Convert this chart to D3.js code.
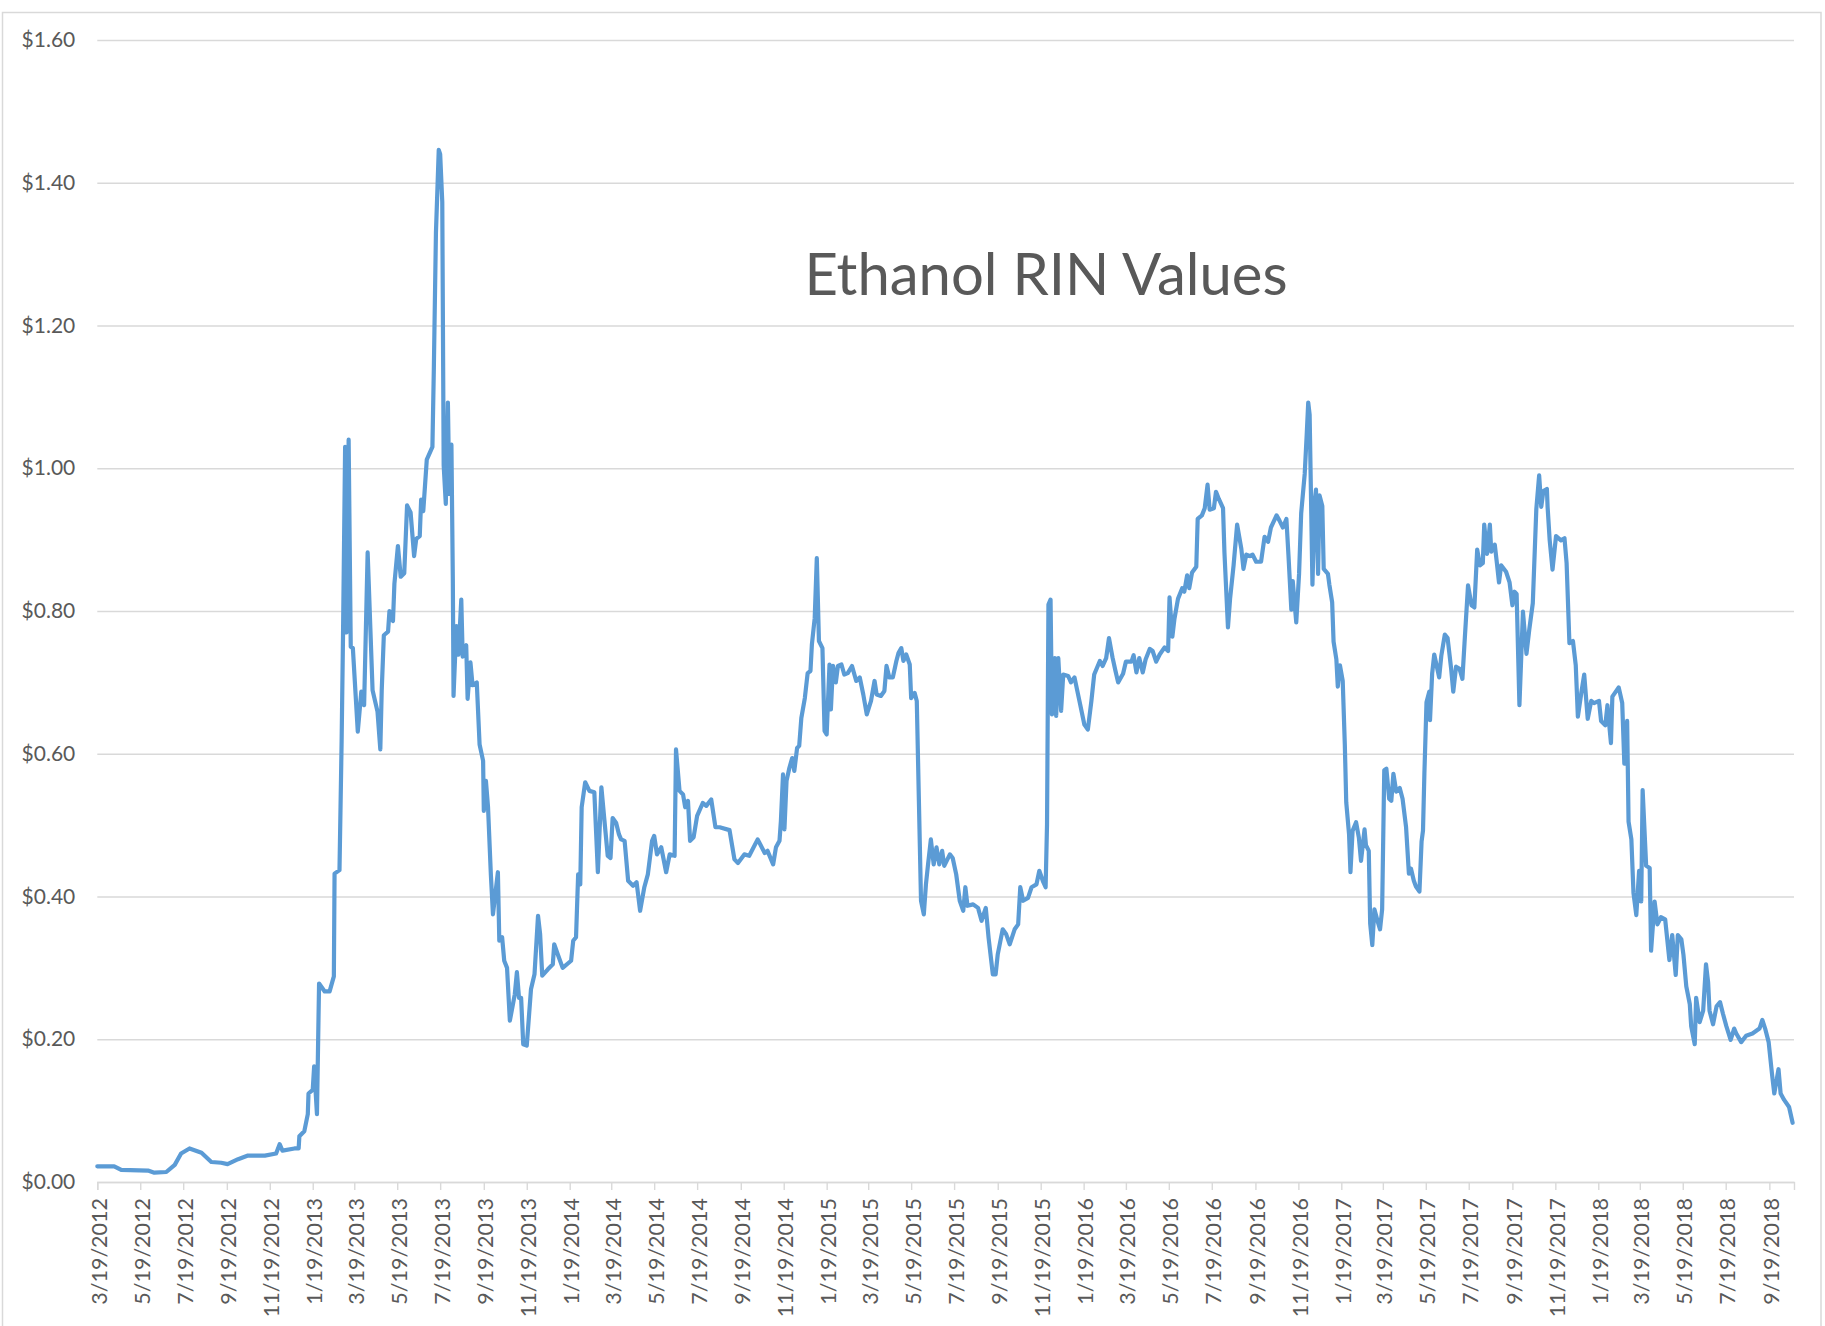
<!DOCTYPE html>
<html>
<head>
<meta charset="utf-8">
<script src="https://cdn.jsdelivr.net/npm/d3@7"></script>
<style>
  html, body { margin: 0; padding: 0; background: #ffffff; }
  svg { display: block; }
</style>
</head>
<body>
<svg id="chart" width="1825" height="1326"></svg>
<script>
// ---------------- DATA ----------------
const chartTitle = "Ethanol RIN Values";

const dates = [
"2012-03-19","2012-04-12","2012-04-22","2012-05-30","2012-06-08","2012-06-25","2012-07-07","2012-07-16","2012-07-28","2012-08-14",
"2012-08-28","2012-09-11","2012-09-20","2012-10-05","2012-10-19","2012-11-12","2012-11-28","2012-12-03","2012-12-07","2012-12-24",
"2012-12-30","2012-12-31","2013-01-07","2013-01-12","2013-01-13","2013-01-19","2013-01-21","2013-01-25","2013-01-28","2013-02-05",
"2013-02-12","2013-02-18","2013-02-19","2013-02-26","2013-03-01","2013-03-03","2013-03-06","2013-03-08","2013-03-11","2013-03-14",
"2013-03-17","2013-03-24","2013-03-29","2013-04-02","2013-04-07","2013-04-14","2013-04-21","2013-04-25","2013-04-27","2013-04-30",
"2013-05-06","2013-05-08","2013-05-13","2013-05-15","2013-05-20","2013-05-24","2013-05-29","2013-06-02","2013-06-07","2013-06-12",
"2013-06-15","2013-06-20","2013-06-22","2013-06-25","2013-06-30","2013-07-08","2013-07-10","2013-07-13","2013-07-17","2013-07-19",
"2013-07-22","2013-07-24","2013-07-27","2013-07-30","2013-08-01","2013-08-04","2013-08-06","2013-08-07","2013-08-11","2013-08-14",
"2013-08-18","2013-08-20","2013-08-25","2013-08-27","2013-08-31","2013-09-03","2013-09-09","2013-09-13","2013-09-18","2013-09-19",
"2013-09-22","2013-09-25","2013-09-29","2013-10-02","2013-10-09","2013-10-11","2013-10-15","2013-10-18","2013-10-22","2013-10-26",
"2013-11-02","2013-11-05","2013-11-08","2013-11-11","2013-11-14","2013-11-19","2013-11-25","2013-11-30","2013-12-05","2013-12-08",
"2013-12-11","2013-12-19","2013-12-26","2013-12-28","2014-01-02","2014-01-09","2014-01-21","2014-01-24","2014-01-28","2014-01-31",
"2014-02-03","2014-02-05","2014-02-10","2014-02-16","2014-02-23","2014-02-28","2014-03-05","2014-03-09","2014-03-14","2014-03-18",
"2014-03-21","2014-03-26","2014-03-30","2014-04-02","2014-04-07","2014-04-12","2014-04-19","2014-04-24","2014-04-29","2014-05-05",
"2014-05-10","2014-05-16","2014-05-19","2014-05-23","2014-05-29","2014-06-05","2014-06-10","2014-06-17","2014-06-19","2014-06-24",
"2014-06-29","2014-07-02","2014-07-06","2014-07-09","2014-07-14","2014-07-19","2014-07-27","2014-08-01","2014-08-08","2014-08-14",
"2014-08-20","2014-09-03","2014-09-10","2014-09-15","2014-09-24","2014-10-01","2014-10-13","2014-10-23","2014-10-27","2014-11-04",
"2014-11-08","2014-11-13","2014-11-15","2014-11-18","2014-11-20","2014-11-23","2014-11-27","2014-12-01","2014-12-04","2014-12-08",
"2014-12-11","2014-12-14","2014-12-19","2014-12-23","2014-12-27","2014-12-29","2015-01-02","2015-01-05","2015-01-08","2015-01-13",
"2015-01-16","2015-01-19","2015-01-23","2015-01-25","2015-01-28","2015-02-01","2015-02-04","2015-02-09","2015-02-13","2015-02-18",
"2015-02-24","2015-03-02","2015-03-07","2015-03-12","2015-03-17","2015-03-23","2015-03-28","2015-03-31","2015-04-06","2015-04-11",
"2015-04-14","2015-04-18","2015-04-23","2015-04-28","2015-05-01","2015-05-05","2015-05-08","2015-05-12","2015-05-17","2015-05-19",
"2015-05-24","2015-05-27","2015-05-30","2015-06-02","2015-06-06","2015-06-09","2015-06-12","2015-06-16","2015-06-20","2015-06-24",
"2015-06-28","2015-07-02","2015-07-05","2015-07-13","2015-07-17","2015-07-22","2015-07-27","2015-08-01","2015-08-04","2015-08-07",
"2015-08-15","2015-08-22","2015-08-27","2015-09-02","2015-09-06","2015-09-12","2015-09-16","2015-09-19","2015-09-26","2015-10-01",
"2015-10-06","2015-10-13","2015-10-18","2015-10-21","2015-10-25","2015-11-01","2015-11-06","2015-11-13","2015-11-17","2015-11-22",
"2015-11-26","2015-11-28","2015-11-30","2015-12-03","2015-12-05","2015-12-09","2015-12-11","2015-12-14","2015-12-18","2015-12-21",
"2015-12-28","2016-01-01","2016-01-06","2016-01-13","2016-01-20","2016-01-25","2016-01-30","2016-02-03","2016-02-11","2016-02-15",
"2016-02-20","2016-02-24","2016-02-29","2016-03-04","2016-03-08","2016-03-15","2016-03-19","2016-03-27","2016-03-30","2016-04-03",
"2016-04-07","2016-04-12","2016-04-16","2016-04-22","2016-04-26","2016-05-01","2016-05-06","2016-05-13","2016-05-18","2016-05-20",
"2016-05-24","2016-05-27","2016-06-01","2016-06-07","2016-06-10","2016-06-14","2016-06-17","2016-06-21","2016-06-27","2016-06-29",
"2016-07-05","2016-07-09","2016-07-13","2016-07-16","2016-07-22","2016-07-25","2016-07-29","2016-08-04","2016-08-06","2016-08-11",
"2016-08-14","2016-08-19","2016-08-24","2016-08-30","2016-09-02","2016-09-06","2016-09-11","2016-09-15","2016-09-20","2016-09-27",
"2016-10-02","2016-10-07","2016-10-11","2016-10-19","2016-10-23","2016-10-28","2016-11-02","2016-11-05","2016-11-09","2016-11-11",
"2016-11-16","2016-11-20","2016-11-23","2016-11-28","2016-12-01","2016-12-03","2016-12-05","2016-12-09","2016-12-12","2016-12-14",
"2016-12-17","2016-12-19","2016-12-23","2016-12-25","2016-12-31","2017-01-02","2017-01-06","2017-01-08","2017-01-12","2017-01-14",
"2017-01-17","2017-01-21","2017-01-24","2017-01-26","2017-01-30","2017-02-01","2017-02-04","2017-02-09","2017-02-13","2017-02-16",
"2017-02-21","2017-02-23","2017-02-27","2017-03-01","2017-03-04","2017-03-07","2017-03-12","2017-03-15","2017-03-18","2017-03-21",
"2017-03-24","2017-03-28","2017-03-31","2017-04-03","2017-04-07","2017-04-12","2017-04-16","2017-04-21","2017-04-25","2017-04-28",
"2017-05-02","2017-05-05","2017-05-10","2017-05-13","2017-05-15","2017-05-17","2017-05-20","2017-05-24","2017-05-25","2017-05-28",
"2017-05-31","2017-06-07","2017-06-10","2017-06-15","2017-06-19","2017-06-24","2017-06-27","2017-07-01","2017-07-06","2017-07-10",
"2017-07-13","2017-07-18","2017-07-23","2017-07-27","2017-07-31","2017-08-04","2017-08-08","2017-08-10","2017-08-14","2017-08-18",
"2017-08-20","2017-08-25","2017-08-28","2017-08-31","2017-09-03","2017-09-10","2017-09-15","2017-09-19","2017-09-22","2017-09-25",
"2017-09-29","2017-10-04","2017-10-09","2017-10-13","2017-10-18","2017-10-23","2017-10-27","2017-10-30","2017-11-02","2017-11-07",
"2017-11-08","2017-11-11","2017-11-15","2017-11-20","2017-11-27","2017-12-02","2017-12-05","2017-12-09","2017-12-14","2017-12-18",
"2017-12-21","2017-12-26","2017-12-30","2018-01-04","2018-01-09","2018-01-13","2018-01-20","2018-01-23","2018-01-29","2018-02-01",
"2018-02-06","2018-02-08","2018-02-17","2018-02-22","2018-02-25","2018-03-01","2018-03-03","2018-03-07","2018-03-10","2018-03-14",
"2018-03-18","2018-03-21","2018-03-23","2018-03-28","2018-04-02","2018-04-04","2018-04-09","2018-04-13","2018-04-18","2018-04-24",
"2018-04-30","2018-05-04","2018-05-09","2018-05-12","2018-05-17","2018-05-20","2018-05-24","2018-05-29","2018-05-31","2018-06-05",
"2018-06-07","2018-06-12","2018-06-17","2018-06-21","2018-06-24","2018-06-26","2018-07-01","2018-07-06","2018-07-11","2018-07-15",
"2018-07-20","2018-07-26","2018-07-31","2018-08-03","2018-08-10","2018-08-17","2018-08-26","2018-09-05","2018-09-09","2018-09-13",
"2018-09-18","2018-09-23","2018-09-26","2018-10-02","2018-10-05","2018-10-10","2018-10-17","2018-10-22"
];

const rinValues = [
0.022,0.022,0.017,0.016,0.013,0.014,0.024,0.040,0.047,0.041,
0.028,0.027,0.025,0.032,0.037,0.037,0.040,0.053,0.044,0.047,
0.047,0.064,0.071,0.095,0.124,0.129,0.162,0.095,0.278,0.267,
0.267,0.288,0.432,0.437,0.615,0.764,1.030,0.770,1.040,0.750,
0.748,0.631,0.687,0.668,0.882,0.689,0.659,0.606,0.689,0.766,
0.771,0.800,0.786,0.838,0.891,0.848,0.853,0.948,0.938,0.877,
0.901,0.905,0.956,0.940,1.012,1.030,1.138,1.330,1.446,1.440,
1.373,1.004,0.950,1.092,0.964,1.033,0.843,0.681,0.779,0.739,
0.816,0.736,0.752,0.677,0.728,0.696,0.700,0.613,0.590,0.520,
0.562,0.525,0.431,0.375,0.434,0.338,0.343,0.310,0.300,0.226,
0.263,0.294,0.258,0.258,0.193,0.191,0.270,0.291,0.373,0.347,
0.289,0.298,0.305,0.333,0.319,0.300,0.310,0.338,0.343,0.431,
0.417,0.525,0.560,0.548,0.546,0.434,0.553,0.510,0.457,0.454,
0.510,0.503,0.487,0.480,0.478,0.422,0.415,0.420,0.380,0.413,
0.431,0.478,0.485,0.459,0.469,0.434,0.459,0.457,0.606,0.548,
0.543,0.525,0.534,0.478,0.483,0.513,0.531,0.527,0.536,0.497,
0.497,0.493,0.452,0.447,0.459,0.457,0.480,0.461,0.464,0.445,
0.469,0.478,0.506,0.571,0.494,0.562,0.580,0.594,0.576,0.608,
0.611,0.650,0.678,0.713,0.716,0.753,0.790,0.874,0.758,0.748,
0.632,0.627,0.725,0.662,0.723,0.700,0.723,0.725,0.711,0.713,
0.723,0.702,0.707,0.683,0.655,0.674,0.702,0.683,0.681,0.688,
0.723,0.707,0.707,0.730,0.741,0.748,0.730,0.739,0.725,0.678,
0.685,0.674,0.534,0.394,0.375,0.417,0.445,0.480,0.445,0.469,
0.445,0.464,0.443,0.459,0.454,0.431,0.394,0.380,0.413,0.387,
0.389,0.384,0.366,0.384,0.342,0.291,0.291,0.319,0.354,0.347,
0.333,0.354,0.361,0.413,0.394,0.398,0.413,0.417,0.436,0.422,
0.413,0.501,0.809,0.816,0.655,0.734,0.653,0.734,0.660,0.711,
0.709,0.700,0.707,0.674,0.641,0.634,0.674,0.711,0.730,0.723,
0.734,0.762,0.735,0.717,0.700,0.712,0.729,0.729,0.738,0.714,
0.734,0.714,0.732,0.747,0.744,0.729,0.739,0.749,0.744,0.819,
0.764,0.789,0.817,0.832,0.827,0.850,0.832,0.854,0.862,0.929,
0.934,0.944,0.977,0.942,0.944,0.967,0.957,0.944,0.882,0.777,
0.817,0.864,0.921,0.887,0.859,0.879,0.877,0.879,0.869,0.869,
0.904,0.897,0.917,0.934,0.927,0.917,0.929,0.877,0.802,0.842,
0.784,0.852,0.937,0.992,1.050,1.092,1.075,0.837,0.952,0.970,
0.852,0.962,0.947,0.859,0.852,0.837,0.812,0.757,0.732,0.694,
0.724,0.702,0.612,0.532,0.487,0.434,0.492,0.504,0.482,0.450,
0.494,0.472,0.464,0.362,0.332,0.382,0.364,0.354,0.382,0.577,
0.579,0.537,0.534,0.572,0.547,0.552,0.537,0.497,0.432,0.439,
0.422,0.414,0.407,0.477,0.492,0.572,0.672,0.687,0.647,0.712,
0.739,0.707,0.737,0.767,0.762,0.719,0.687,0.722,0.719,0.705,
0.755,0.836,0.808,0.805,0.886,0.864,0.867,0.921,0.880,0.921,
0.883,0.893,0.867,0.840,0.864,0.855,0.840,0.808,0.827,0.824,
0.668,0.799,0.740,0.774,0.811,0.943,0.990,0.946,0.968,0.971,
0.946,0.899,0.858,0.905,0.899,0.902,0.867,0.755,0.758,0.724,
0.652,0.686,0.711,0.649,0.674,0.671,0.674,0.646,0.640,0.668,
0.615,0.680,0.693,0.671,0.586,0.646,0.505,0.480,0.405,0.374,
0.436,0.393,0.549,0.443,0.440,0.324,0.393,0.361,0.371,0.368,
0.311,0.346,0.290,0.346,0.340,0.318,0.274,0.249,0.218,0.193,
0.258,0.224,0.240,0.305,0.280,0.240,0.221,0.246,0.252,0.236,
0.218,0.199,0.215,0.208,0.196,0.205,0.208,0.215,0.227,0.215,
0.196,0.149,0.124,0.158,0.124,0.115,0.105,0.083
];

const yTickValues = [0, 0.2, 0.4, 0.6, 0.8, 1.0, 1.2, 1.4, 1.6];

const xTickLabels = [
"3/19/2012","5/19/2012","7/19/2012","9/19/2012","11/19/2012",
"1/19/2013","3/19/2013","5/19/2013","7/19/2013","9/19/2013","11/19/2013",
"1/19/2014","3/19/2014","5/19/2014","7/19/2014","9/19/2014","11/19/2014",
"1/19/2015","3/19/2015","5/19/2015","7/19/2015","9/19/2015","11/19/2015",
"1/19/2016","3/19/2016","5/19/2016","7/19/2016","9/19/2016","11/19/2016",
"1/19/2017","3/19/2017","5/19/2017","7/19/2017","9/19/2017","11/19/2017",
"1/19/2018","3/19/2018","5/19/2018","7/19/2018","9/19/2018"
];

const xDomain = ["2012-03-19", "2018-10-24"];
const yDomain = [0, 1.6];

// ---------------- LAYOUT / STYLE ----------------
const W = 1825, H = 1326;
const plot = { left: 97.3, right: 1794, top: 40, bottom: 1182 };
const textColor = "#595959";
const gridColor = "#d9d9d9";
const lineColor = "#5b9bd5";
const fontFamily = "Lato, 'Open Sans', 'DejaVu Sans', sans-serif";

const parseISO = d3.timeParse("%Y-%m-%d");
const parseLabel = d3.timeParse("%m/%d/%Y");

const series = dates.map((d, i) => ({ date: parseISO(d), value: rinValues[i] }));

const x = d3.scaleTime()
  .domain(xDomain.map(parseISO))
  .range([plot.left, plot.right]);

const y = d3.scaleLinear()
  .domain(yDomain)
  .range([plot.bottom, plot.top]);

const svg = d3.select("#chart");

svg.append("rect")
  .attr("x", 0).attr("y", 0).attr("width", W).attr("height", H)
  .attr("fill", "#ffffff");

// outer chart frame
svg.append("rect")
  .attr("x", 2.5).attr("y", 12.5)
  .attr("width", 1818.5).attr("height", H + 20)
  .attr("fill", "none")
  .attr("stroke", gridColor)
  .attr("stroke-width", 1.5);

// Y axis with gridlines
const yAxis = d3.axisLeft(y)
  .tickValues(yTickValues)
  .tickSize(-(plot.right - plot.left))
  .tickPadding(22)
  .tickFormat(d3.format("$.2f"));

const gy = svg.append("g")
  .attr("transform", `translate(${plot.left},0)`)
  .call(yAxis);
gy.select(".domain").remove();
gy.selectAll(".tick line")
  .attr("stroke", gridColor)
  .attr("stroke-width", 1.4);
gy.selectAll(".tick text")
  .attr("fill", textColor)
  .style("font-family", fontFamily)
  .style("font-size", "21px");

// X axis
const xAxis = d3.axisBottom(x)
  .tickValues(xTickLabels.map(parseLabel))
  .tickSize(8)
  .tickPadding(0)
  .tickFormat((d, i) => xTickLabels[i]);

const gx = svg.append("g")
  .attr("transform", `translate(0,${plot.bottom})`)
  .call(xAxis);
gx.select(".domain")
  .attr("stroke", gridColor)
  .attr("stroke-width", 1.4);
gx.selectAll(".tick line")
  .attr("stroke", gridColor)
  .attr("stroke-width", 1.4);
gx.selectAll(".tick text")
  .attr("fill", textColor)
  .style("font-family", fontFamily)
  .style("font-size", "21.5px")
  .attr("text-anchor", "end")
  .attr("transform", "rotate(-90)")
  .attr("x", -16)
  .attr("y", 1.5)
  .attr("dy", "0.35em");

// Line
const line = d3.line()
  .x(d => x(d.date))
  .y(d => y(d.value));

svg.append("path")
  .datum(series)
  .attr("fill", "none")
  .attr("stroke", lineColor)
  .attr("stroke-width", 4.2)
  .attr("stroke-linejoin", "round")
  .attr("stroke-linecap", "round")
  .attr("d", line);

// Title
svg.append("text")
  .attr("x", 1046)
  .attr("y", 295)
  .attr("text-anchor", "middle")
  .attr("fill", textColor)
  .style("font-family", fontFamily)
  .style("font-size", "58px")
  .text(chartTitle);
</script>
</body>
</html>
